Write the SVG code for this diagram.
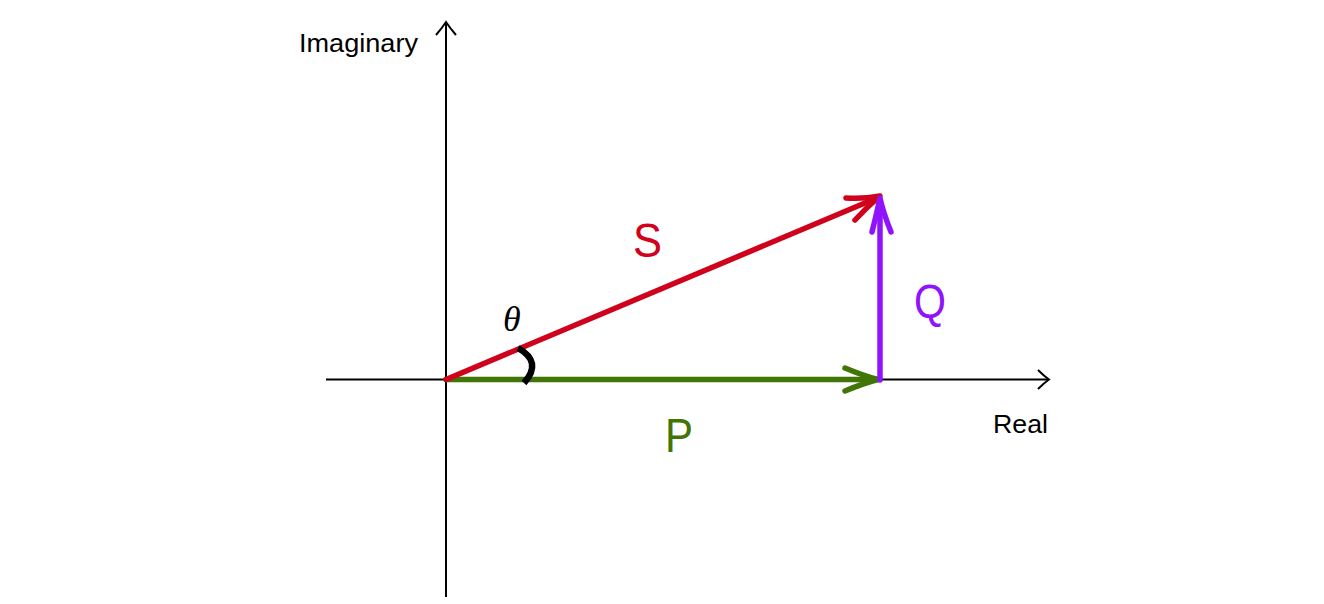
<svg xmlns="http://www.w3.org/2000/svg" width="1324" height="604" viewBox="0 0 1324 604">
<style>
.axis{stroke:#000;stroke-width:2;fill:none}
.vec{fill:none;stroke-width:5.5;stroke-linecap:round;stroke-linejoin:round}
.lbl{font-family:"Liberation Sans",Arial,sans-serif}
</style>
<rect width="1324" height="604" fill="#fff"/>
<g id="axes">
  <path class="axis" d="M326,379.5 H1048"/>
  <path class="axis" d="M1038,370 Q1044,376 1049,379.5 Q1044,383 1038,389"/>
  <path class="axis" d="M446,597 V23"/>
  <path class="axis" d="M436,35 Q442,28 446,22 Q450,28 456,35"/>
</g>
<g id="connectors">
  <g id="P-vector">
    <path class="vec" stroke="#417505" d="M446,379.5 H877"/>
    <path class="vec" stroke="#417505" d="M845,368 Q864,376 878,379.5 Q864,383 845,391"/>
  </g>
  <g id="S-vector">
    <path class="vec" stroke="#D0021B" d="M446,379.5 L878,197.5"/>
    <path class="vec" stroke="#D0021B" d="M846,198 Q864,199 880,196 Q867,207 855,220"/>
  </g>
  <g id="Q-vector">
    <path class="vec" stroke="#9013FE" stroke-linecap="butt" d="M880,380 V200"/>
    <path class="vec" stroke="#9013FE" d="M872,232 Q877,212 880,198 Q883,212 891,232"/>
  </g>
  <path id="angle" fill="none" stroke="#000" stroke-width="6.5" d="M518,348 Q543,362 524,383"/>
</g>
<g id="labels">
  <text class="lbl" x="418" y="52" font-size="25" text-anchor="end" textLength="119" lengthAdjust="spacingAndGlyphs">Imaginary</text>
  <text class="lbl" x="993" y="433" font-size="26" textLength="55" lengthAdjust="spacingAndGlyphs">Real</text>
  <text class="lbl" x="633" y="257" font-size="48" fill="#D0021B" textLength="29" lengthAdjust="spacingAndGlyphs">S</text>
  <text class="lbl" x="914" y="318" font-size="48" fill="#9013FE" textLength="32" lengthAdjust="spacingAndGlyphs">Q</text>
  <text class="lbl" x="665" y="452" font-size="48" fill="#417505" textLength="28" lengthAdjust="spacingAndGlyphs">P</text>
  <text x="503" y="331" font-size="36" font-style="italic" font-family="'Liberation Serif','Times New Roman',serif">θ</text>
</g>
</svg>
